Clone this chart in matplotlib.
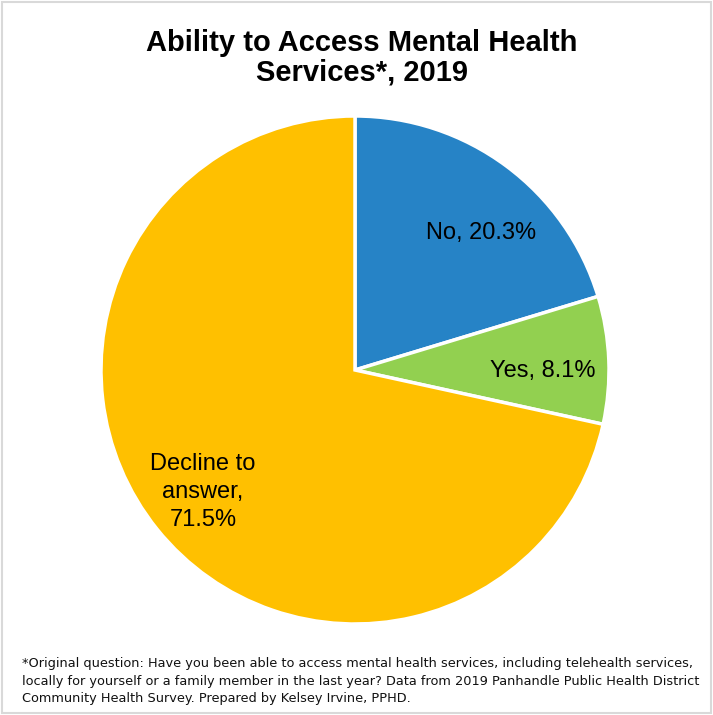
import matplotlib.pyplot as plt
from matplotlib.patches import Rectangle
from matplotlib.transforms import offset_copy

categories = ["No,", "Yes,", "Decline to\nanswer,"]
shares = [20.3, 8.1, 71.5]
colors = ["#2683C6", "#92D050", "#FFC000"]
# small nudges (points) to match Excel's label placement
label_nudge = [(10, -10), (0, -6), (-4, -3)]

title = "Ability to Access Mental Health\nServices*, 2019"
footnote = ("*Original question: Have you been able to access mental health services, including telehealth services,\n"
            "locally for yourself or a family member in the last year? Data from 2019 Panhandle Public Health District\n"
            "Community Health Survey. Prepared by Kelsey Irvine, PPHD.")

W, H = 713, 715
fig = plt.figure(figsize=(W / 100, H / 100), dpi=100)
fig.patch.set_facecolor("white")
fig.add_artist(Rectangle((2 / W, 2 / H), (W - 4) / W, (H - 4) / H, transform=fig.transFigure,
                         fill=False, edgecolor="#d9d9d9", linewidth=1.5))

cx, cy, r = 355, 370, 254
ax = fig.add_axes([(cx - r) / W, (H - cy - r) / H, 2 * r / W, 2 * r / H])
labels = []
for name, v in zip(categories, shares):
    sep = "\n" if "\n" in name else " "
    labels.append(f"{name}{sep}{v}%")
wedges, texts = ax.pie(shares, labels=labels, colors=colors, startangle=90, counterclock=False,
                       labeldistance=0.74, wedgeprops=dict(edgecolor="white", linewidth=2.5),
                       textprops=dict(fontsize=17, family="Liberation Sans", color="black"))
for t, (dx, dy) in zip(texts, label_nudge):
    t.set_ha("center")
    t.set_va("center")
    t.set_multialignment("center")
    t.set_linespacing(1.35)
    t.set_transform(offset_copy(t.get_transform(), fig=fig, x=dx, y=dy, units="points"))
ax.set_xlim(-1, 1)
ax.set_ylim(-1, 1)
ax.set_aspect("equal")
ax.axis("off")

fig.text(362 / W, 1 - 58 / H, title, ha="center", va="center", fontsize=21, fontweight="bold",
         family="Liberation Sans", linespacing=1.08)
fig.text(22 / W, 1 - 681 / H, footnote, ha="left", va="center", fontsize=9.3,
         family="DejaVu Sans", linespacing=1.45, color="#111111")

fig.savefig("out.png", dpi=100)
